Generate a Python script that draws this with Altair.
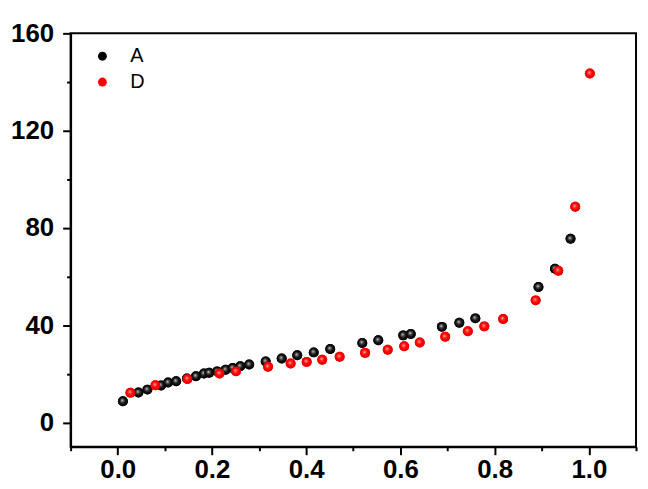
import altair as alt
import pandas as pd

# ---- data ----
a_x = [0.011, 0.044, 0.063, 0.092, 0.107, 0.124, 0.147, 0.166, 0.183, 0.194,
       0.211, 0.229, 0.244, 0.260, 0.279, 0.314, 0.348, 0.381, 0.416, 0.451,
       0.519, 0.553, 0.606, 0.622, 0.688, 0.725, 0.759, 0.893, 0.928, 0.961]
a_y = [8.7, 12.3, 13.5, 15.2, 16.4, 16.9, 18.1, 19.0, 20.1, 20.4,
       21.0, 21.7, 22.4, 23.1, 23.8, 25.1, 26.3, 27.6, 28.8, 30.2,
       32.7, 33.8, 35.8, 36.4, 39.3, 41.0, 42.8, 55.7, 63.2, 75.5]
d_x = [0.027, 0.080, 0.148, 0.216, 0.251, 0.319, 0.367, 0.401, 0.434, 0.471,
       0.525, 0.573, 0.608, 0.641, 0.695, 0.743, 0.778, 0.818, 0.887, 0.935,
       0.971, 1.002]
d_y = [12.2, 15.3, 17.9, 20.1, 21.0, 22.9, 24.2, 24.9, 25.8, 27.0,
       28.6, 29.9, 31.3, 32.9, 35.2, 37.5, 39.5, 42.5, 50.2, 62.4,
       88.7, 143.5]
series = ["A", "D"]
series_colors = ["#000000", "#ff0000"]
x_ticks = [-0.1, 0.0, 0.1, 0.2, 0.3, 0.4, 0.5, 0.6, 0.7, 0.8, 0.9, 1.0, 1.1]
y_ticks = [0, 20, 40, 60, 80, 100, 120, 140, 160]

df = pd.concat([
    pd.DataFrame({"x": a_x, "y": a_y, "s": series[0]}),
    pd.DataFrame({"x": d_x, "y": d_y, "s": series[1]}),
], ignore_index=True)

FONT = "Liberation Sans"

x_enc = alt.X("x:Q", scale=alt.Scale(domain=[-0.1, 1.1], nice=False, zero=False),
              axis=alt.Axis(values=x_ticks, title=None,
                            labelExpr="round(datum.value*10) % 2 != 0 ? '' : format(datum.value, '.1f')",
                            tickSize={"condition": {"test": "round(datum.value*10) % 2 != 0", "value": 4}, "value": 8},
                            labelPadding=2))
y_enc = alt.Y("y:Q", scale=alt.Scale(domain=[-10, 160], nice=False, zero=False),
              axis=alt.Axis(values=y_ticks, title=None,
                            labelExpr="datum.value % 40 != 0 ? '' : format(datum.value, 'd')",
                            tickSize={"condition": {"test": "datum.value % 40 != 0", "value": 4}, "value": 8},
                            labelPadding=9))

base = alt.Chart(df).mark_circle(size=100, opacity=1).encode(
    x=x_enc, y=y_enc,
    color=alt.Color("s:N", scale=alt.Scale(domain=series, range=series_colors),
                    legend=alt.Legend(title=None, orient="none", legendX=22, legendY=13,
                                      symbolType="circle", symbolSize=80,
                                      labelFont=FONT, labelFontSize=20, labelColor="black",
                                      labelOffset=18, rowPadding=6, padding=0,
                                      labelExpr="datum.label == 'A' ? '\u00a0A' : datum.label"))
)

grad_black = alt.RadialGradient(
    gradient="radial", x1=0.42, y1=0.4, r1=0, x2=0.5, y2=0.5, r2=0.55,
    stops=[alt.GradientStop(offset=0, color="#e8e8e8"),
           alt.GradientStop(offset=0.25, color="#5a5a5a"),
           alt.GradientStop(offset=0.55, color="#111111"),
           alt.GradientStop(offset=1, color="#000000")])
grad_red = alt.RadialGradient(
    gradient="radial", x1=0.42, y1=0.4, r1=0, x2=0.5, y2=0.5, r2=0.55,
    stops=[alt.GradientStop(offset=0, color="#ffd0d0"),
           alt.GradientStop(offset=0.25, color="#ff4040"),
           alt.GradientStop(offset=0.55, color="#ff0000"),
           alt.GradientStop(offset=1, color="#e00000")])

layer_a = alt.Chart(df).transform_filter(alt.datum.s == series[0]).mark_circle(
    size=100, opacity=1, fill=grad_black).encode(x=x_enc, y=y_enc)
layer_d = alt.Chart(df).transform_filter(alt.datum.s == series[1]).mark_circle(
    size=100, opacity=1, fill=grad_red).encode(x=x_enc, y=y_enc)

chart = alt.layer(base, layer_a, layer_d).properties(
    width=569, height=416,
    autosize=alt.AutoSizeParams(type="none"),
    padding={"left": 63, "top": 24, "right": 4, "bottom": 40},
    background="white",
).configure_view(
    stroke="black", strokeWidth=2
).configure_axis(
    grid=False, domainColor="black", domainWidth=2, tickColor="black", tickWidth=2,
    labelFont=FONT, labelFontSize=26, labelFontWeight="bold", labelColor="black",
)

chart.save("out.html", embed_options={"renderer": "svg", "actions": False})
